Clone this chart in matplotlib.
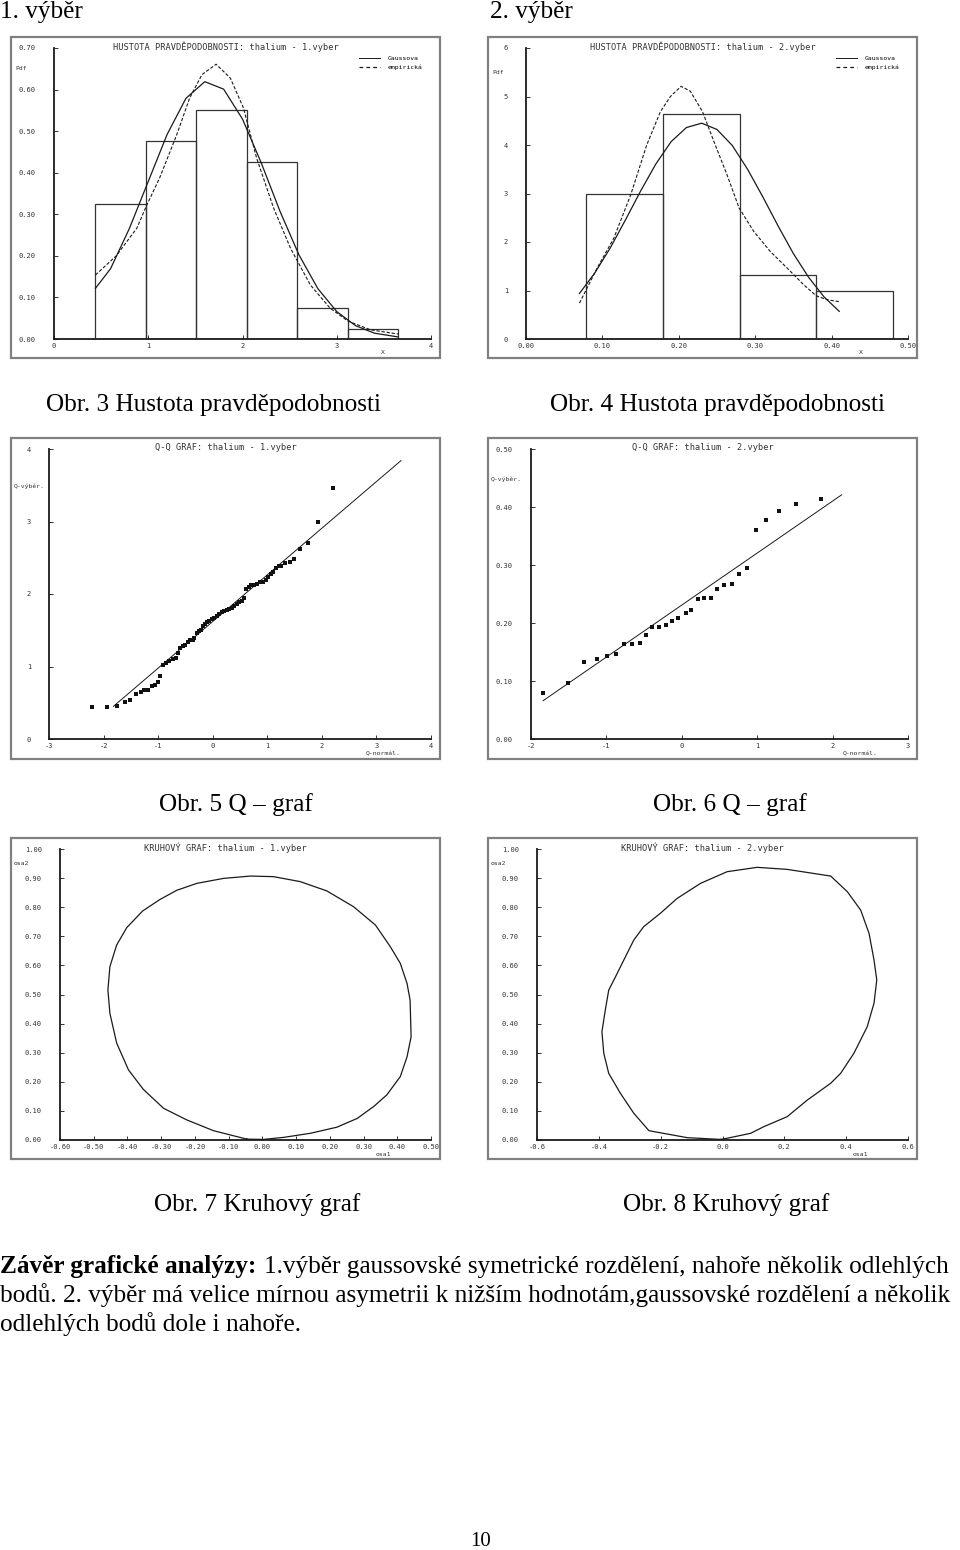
import matplotlib.pyplot as plt
from matplotlib.patches import Rectangle
from matplotlib.lines import Line2D

plt.rcParams['font.family'] = ['DejaVu Sans Mono']

# ---------- data ----------
# histogram, sample 1
hist1_edges = [0.44, 0.98, 1.51, 2.05, 2.58, 3.12, 3.65]
hist1_heights = [0.325, 0.476, 0.550, 0.425, 0.074, 0.024]
gauss1_x = [0.44, 0.6, 0.8, 1.0, 1.2, 1.4, 1.6, 1.8, 2.0, 2.2, 2.4, 2.6, 2.8, 3.0, 3.2, 3.4, 3.65]
gauss1_y = [0.122, 0.169, 0.266, 0.379, 0.492, 0.579, 0.619, 0.601, 0.529, 0.423, 0.306, 0.202,
            0.121, 0.066, 0.032, 0.014, 0.005]
emp1_x = [0.44, 0.66, 0.88, 0.98, 1.12, 1.30, 1.44, 1.57, 1.72, 1.87, 2.01, 2.15, 2.33, 2.51,
          2.72, 2.93, 3.12, 3.36, 3.65]
emp1_y = [0.154, 0.200, 0.267, 0.320, 0.387, 0.490, 0.580, 0.636, 0.661, 0.628, 0.556, 0.435,
          0.315, 0.218, 0.130, 0.074, 0.043, 0.022, 0.012]

# histogram, sample 2
hist2_edges = [0.078, 0.179, 0.280, 0.380, 0.481]
hist2_heights = [2.99, 4.64, 1.32, 1.00]
gauss2_x = [0.07, 0.09, 0.11, 0.13, 0.15, 0.17, 0.19, 0.21, 0.23, 0.25, 0.27, 0.29, 0.31,
            0.33, 0.35, 0.37, 0.39, 0.41]
gauss2_y = [0.94, 1.36, 1.87, 2.45, 3.05, 3.61, 4.07, 4.36, 4.45, 4.32, 3.99, 3.50, 2.93,
            2.33, 1.76, 1.27, 0.87, 0.57]
emp2_x = [0.070, 0.093, 0.115, 0.137, 0.158, 0.176, 0.189, 0.203, 0.215, 0.231, 0.246, 0.263,
          0.279, 0.298, 0.320, 0.342, 0.364, 0.380, 0.394, 0.410]
emp2_y = [0.74, 1.46, 2.08, 2.97, 4.00, 4.69, 5.00, 5.21, 5.11, 4.69, 4.07, 3.39,
          2.70, 2.22, 1.80, 1.46, 1.11, 0.89, 0.81, 0.77]

# Q-Q, sample 1
qq1_x = [-2.22, -1.93, -1.75, -1.61, -1.51, -1.41, -1.32, -1.26, -1.18, -1.11, -1.05, -1.01,
         -0.97, -0.92, -0.86, -0.80, -0.72, -0.68, -0.64, -0.60, -0.54, -0.50, -0.46, -0.42,
         -0.37, -0.34, -0.29, -0.26, -0.22, -0.18, -0.14, -0.10, -0.06, -0.02, 0.02, 0.07,
         0.12, 0.17, 0.21, 0.26, 0.30, 0.35, 0.39, 0.44, 0.49, 0.53, 0.57, 0.61, 0.66, 0.70,
         0.75, 0.81, 0.87, 0.93, 0.98, 1.02, 1.07, 1.11, 1.16, 1.21, 1.25, 1.33, 1.41, 1.49,
         1.60, 1.74, 1.93, 2.20]
qq1_y = [0.44, 0.44, 0.46, 0.51, 0.54, 0.62, 0.65, 0.67, 0.68, 0.73, 0.74, 0.78,
         0.87, 1.02, 1.05, 1.08, 1.11, 1.12, 1.18, 1.26, 1.28, 1.30, 1.34, 1.36,
         1.37, 1.40, 1.46, 1.49, 1.51, 1.56, 1.58, 1.61, 1.63, 1.65, 1.67, 1.69,
         1.73, 1.75, 1.77, 1.78, 1.79, 1.81, 1.83, 1.86, 1.89, 1.91, 1.94, 2.07, 2.10, 2.12,
         2.13, 2.14, 2.16, 2.17, 2.19, 2.24, 2.27, 2.31, 2.36, 2.39, 2.38, 2.43, 2.44, 2.48,
         2.62, 2.71, 3.00, 3.46]
qq1_line_x = [-1.82, 3.45]
qq1_line_y = [0.45, 3.84]

# Q-Q, sample 2
qq2_x = [-1.84, -1.51, -1.30, -1.12, -0.99, -0.87, -0.76, -0.66, -0.56, -0.47, -0.39, -0.30,
         -0.21, -0.13, -0.05, 0.05, 0.12, 0.21, 0.30, 0.39, 0.47, 0.56, 0.66, 0.76,
         0.86, 0.99, 1.12, 1.29, 1.51, 1.84]
qq2_y = [0.079, 0.097, 0.133, 0.138, 0.143, 0.147, 0.163, 0.163, 0.165, 0.179, 0.193, 0.193,
         0.196, 0.204, 0.209, 0.218, 0.223, 0.241, 0.243, 0.243, 0.259, 0.265, 0.267, 0.284,
         0.294, 0.360, 0.377, 0.393, 0.406, 0.414]
qq2_line_x = [-1.84, 2.12]
qq2_line_y = [0.066, 0.421]

# circle plot, sample 1
circ1_x = [-0.046, -0.145, -0.224, -0.293, -0.353, -0.397, -0.432, -0.452, -0.458, -0.452,
           -0.432, -0.402, -0.355, -0.303, -0.254, -0.194, -0.115, -0.036, 0.033, 0.112,
           0.191, 0.270, 0.335, 0.379, 0.409, 0.429, 0.438, 0.441, 0.429, 0.409, 0.369,
           0.330, 0.281, 0.221, 0.142, 0.063, 0.003, -0.046]
circ1_y = [0.003, 0.032, 0.069, 0.109, 0.174, 0.241, 0.333, 0.435, 0.515, 0.596,
           0.670, 0.730, 0.787, 0.827, 0.858, 0.882, 0.899, 0.907, 0.905, 0.888,
           0.856, 0.802, 0.739, 0.665, 0.607, 0.538, 0.481, 0.355, 0.286, 0.218, 0.155,
           0.115, 0.074, 0.044, 0.023, 0.009, 0.002, 0.003]

# circle plot, sample 2
circ2_x = [-0.006, -0.114, -0.238, -0.287, -0.330, -0.368, -0.384, -0.390, -0.379, -0.368,
           -0.346, -0.319, -0.287, -0.255, -0.201, -0.147, -0.071, 0.015, 0.112, 0.209,
           0.350, 0.404, 0.447, 0.474, 0.490, 0.499, 0.490, 0.468, 0.425, 0.382, 0.350,
           0.274, 0.209, 0.134, 0.091, 0.015, -0.006]
circ2_y = [0.002, 0.008, 0.032, 0.092, 0.160, 0.229, 0.298, 0.372, 0.447, 0.515,
           0.561, 0.619, 0.687, 0.733, 0.779, 0.830, 0.882, 0.922, 0.937, 0.930,
           0.907, 0.853, 0.790, 0.710, 0.619, 0.550, 0.470, 0.389, 0.298, 0.229, 0.195,
           0.137, 0.080, 0.046, 0.023, 0.006, 0.002]

W, H = 960, 1550
fig = plt.figure(figsize=(W / 100, H / 100), dpi=100)
fig.patch.set_facecolor('white')

SERIF = ['Liberation Serif', 'DejaVu Serif']
INK = '#1a1a1a'
FS = 18.2


def box(x0, y0, x1, y1):
    return [x0 / W, 1 - y1 / H, (x1 - x0) / W, (y1 - y0) / H]


def ftext(x, y, s, **kw):
    kw.setdefault('va', 'center')
    fig.text(x / W, 1 - y / H, s, **kw)


def panel(frame, axrect, title, xlim, ylim, xticks, yticks, xfmt, yfmt,
          ylab, ylab_xy, xlab, xlab_xy):
    x0, y0, x1, y1 = frame
    fig.add_artist(Rectangle((x0 / W, 1 - y1 / H), (x1 - x0) / W, (y1 - y0) / H,
                             transform=fig.transFigure, fill=False, ec='#808080', lw=1.6))
    ax = fig.add_axes(box(*axrect))
    ax.set_xlim(*xlim)
    ax.set_ylim(*ylim)
    for s in ['top', 'right']:
        ax.spines[s].set_visible(False)
    for s in ['left', 'bottom']:
        ax.spines[s].set_linewidth(1.3)
        ax.spines[s].set_color(INK)
    ax.set_xticks(xticks)
    ax.set_yticks(yticks)
    ax.set_xticklabels([xfmt.format(v) for v in xticks], fontsize=5)
    ax.set_yticklabels([yfmt.format(v) for v in yticks], fontsize=5)
    ax.tick_params(axis='y', direction='in', length=3, width=0.7, pad=13, colors='#333')
    ax.tick_params(axis='x', direction='in', length=3, width=0.7, pad=3, colors='#333')
    ax.patch.set_alpha(0)
    ftext((x0 + x1) / 2, axrect[1] - 1, title, ha='center', fontsize=6.2, color='#333')
    ftext(ylab_xy[0], ylab_xy[1], ylab, ha='left', fontsize=4.6, color='#333')
    ftext(xlab_xy[0], xlab_xy[1], xlab, ha='left', fontsize=4.6, color='#333')
    return ax


def histo(ax, edges, heights, gx, gy, ex, ey):
    widths = [edges[i + 1] - edges[i] for i in range(len(heights))]
    ax.bar(edges[:-1], heights, width=widths, align='edge', fill=False,
           edgecolor='#333', linewidth=0.9)
    ax.plot(gx, gy, color=INK, lw=0.9)
    ax.plot(ex, ey, color=INK, lw=0.8, dashes=(3, 1.6))
    handles = [Line2D([], [], color=INK, lw=0.7),
               Line2D([], [], color=INK, lw=0.9, dashes=(3, 2.5))]
    ax.legend(handles, ['Gaussova', 'empirická'], loc='upper right',
              bbox_to_anchor=(0.985, 0.985), frameon=False, fontsize=4.6,
              handlelength=3.2, labelspacing=0.55, borderpad=0, handletextpad=1.2)


# ---- row 1: probability density ----
ax1 = panel((11, 37, 440, 358), (54, 48, 431, 339),
            'HUSTOTA PRAVDĚPODOBNOSTI: thalium - 1.vyber',
            (0, 4), (0, 0.70), [0, 1, 2, 3, 4],
            [0, 0.1, 0.2, 0.3, 0.4, 0.5, 0.6, 0.7], '{:g}', '{:.2f}',
            'Pdf', (15, 69), 'X', (381, 353))
histo(ax1, hist1_edges, hist1_heights, gauss1_x, gauss1_y, emp1_x, emp1_y)

ax2 = panel((488, 37, 917, 358), (526, 48, 908, 339),
            'HUSTOTA PRAVDĚPODOBNOSTI: thalium - 2.vyber',
            (0, 0.5), (0, 6), [0, 0.1, 0.2, 0.3, 0.4, 0.5],
            [0, 1, 2, 3, 4, 5, 6], '{:.2f}', '{:g}',
            'Pdf', (492, 72), 'X', (859, 353))
histo(ax2, hist2_edges, hist2_heights, gauss2_x, gauss2_y, emp2_x, emp2_y)

# ---- row 2: Q-Q ----
ax3 = panel((11, 438, 440, 759), (49, 449, 431, 739),
            'Q-Q GRAF: thalium - 1.vyber',
            (-3, 4), (0, 4), [-3, -2, -1, 0, 1, 2, 3, 4], [0, 1, 2, 3, 4],
            '{:g}', '{:g}', 'Q-výběr.', (14, 486), 'Q-normál.', (366, 754))
ax3.plot(qq1_line_x, qq1_line_y, color=INK, lw=0.7)
ax3.plot(qq1_x, qq1_y, ls='none', marker='s', ms=2.6, color='#111', mew=0)

ax4 = panel((488, 438, 917, 759), (531, 449, 908, 739),
            'Q-Q GRAF: thalium - 2.vyber',
            (-2, 3), (0, 0.5), [-2, -1, 0, 1, 2, 3], [0, 0.1, 0.2, 0.3, 0.4, 0.5],
            '{:g}', '{:.2f}', 'Q-výběr.', (491, 479), 'Q-normál.', (843, 754))
ax4.plot(qq2_line_x, qq2_line_y, color=INK, lw=0.7)
ax4.plot(qq2_x, qq2_y, ls='none', marker='s', ms=3, color='#111', mew=0)

# ---- row 3: circle plots ----
ax5 = panel((11, 838, 440, 1159), (60, 849, 431, 1140),
            'KRUHOVÝ GRAF: thalium - 1.vyber',
            (-0.6, 0.5), (0, 1.0),
            [-0.6, -0.5, -0.4, -0.3, -0.2, -0.1, 0.0, 0.1, 0.2, 0.3, 0.4, 0.5],
            [0, 0.1, 0.2, 0.3, 0.4, 0.5, 0.6, 0.7, 0.8, 0.9, 1.0],
            '{:.2f}', '{:.2f}', 'osa2', (14, 864), 'osa1', (376, 1155))
ax5.plot(circ1_x, circ1_y, color=INK, lw=0.9)

ax6 = panel((488, 838, 917, 1159), (537, 849, 908, 1140),
            'KRUHOVÝ GRAF: thalium - 2.vyber',
            (-0.6, 0.6), (0, 1.0), [-0.6, -0.4, -0.2, 0.0, 0.2, 0.4, 0.6],
            [0, 0.1, 0.2, 0.3, 0.4, 0.5, 0.6, 0.7, 0.8, 0.9, 1.0],
            '{:.1f}', '{:.2f}', 'osa2', (491, 864), 'osa1', (853, 1155))
ax6.plot(circ2_x, circ2_y, color=INK, lw=0.9)

# ---- page text ----
ftext(0, 12, '1. výběr', ha='left', fontsize=FS, family=SERIF)
ftext(490, 12, '2. výběr', ha='left', fontsize=FS, family=SERIF)
ftext(213, 405, 'Obr. 3 Hustota pravděpodobnosti', ha='center', fontsize=FS, family=SERIF)
ftext(717, 405, 'Obr. 4 Hustota pravděpodobnosti', ha='center', fontsize=FS, family=SERIF)
ftext(236, 805, 'Obr. 5 Q – graf', ha='center', fontsize=FS, family=SERIF)
ftext(730, 805, 'Obr. 6 Q – graf', ha='center', fontsize=FS, family=SERIF)
ftext(257, 1205, 'Obr. 7 Kruhový graf', ha='center', fontsize=FS, family=SERIF)
ftext(726, 1205, 'Obr. 8 Kruhový graf', ha='center', fontsize=FS, family=SERIF)

ftext(0, 1273, 'Závěr grafické analýzy:', ha='left', va='baseline', fontsize=FS,
      family=SERIF, weight='bold')
ftext(264, 1273, '1.výběr gaussovské symetrické rozdělení, nahoře několik odlehlých',
      ha='left', va='baseline', fontsize=FS, family=SERIF)
ftext(0, 1302, 'bodů. 2. výběr má velice mírnou asymetrii k nižším hodnotám,'
      'gaussovské rozdělení a několik', ha='left', va='baseline', fontsize=FS,
      family=SERIF)
ftext(0, 1331, 'odlehlých bodů dole i nahoře.', ha='left', va='baseline', fontsize=FS,
      family=SERIF)
ftext(481, 1541, '10', ha='center', fontsize=15, family=SERIF)

fig.savefig('out.png', dpi=100, facecolor='white')
